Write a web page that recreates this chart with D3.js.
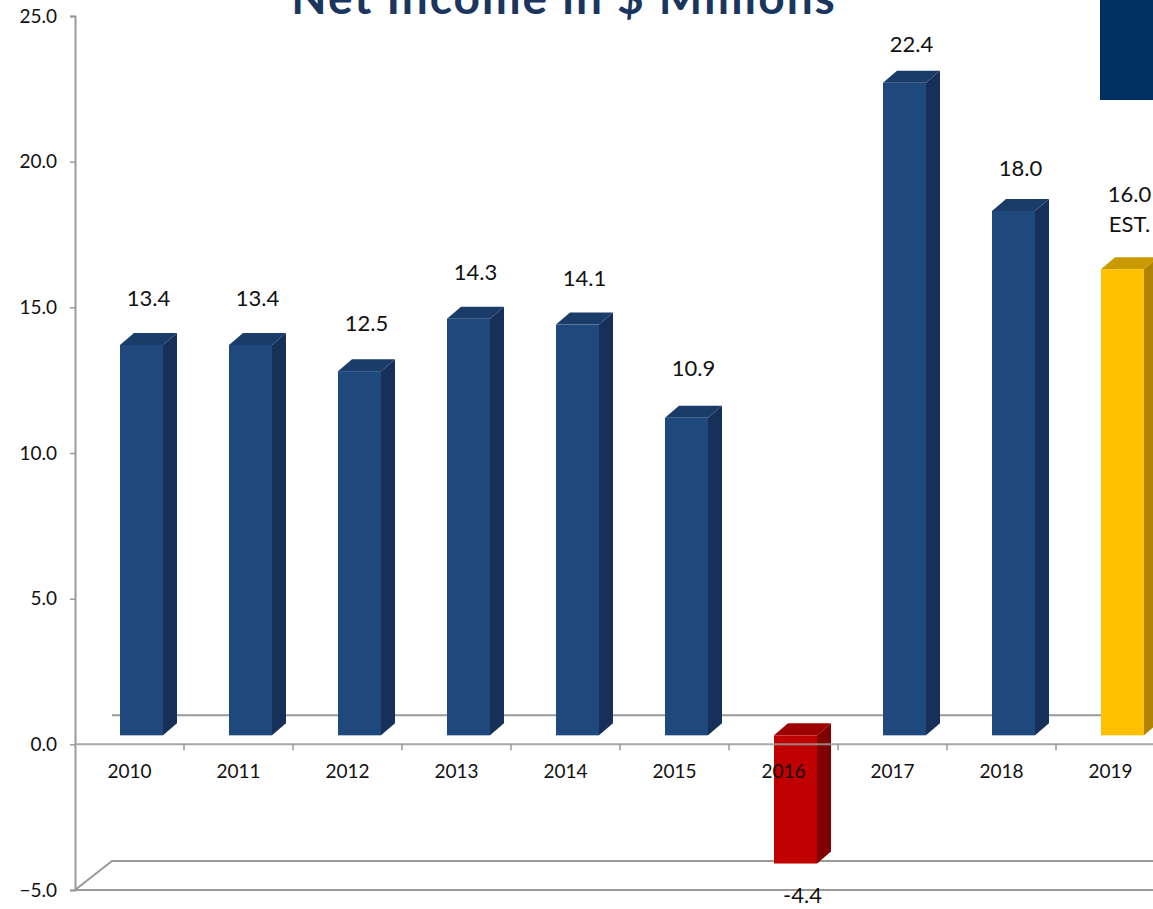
<!DOCTYPE html>
<html>
<head>
<meta charset="utf-8">
<script src="https://cdn.jsdelivr.net/npm/d3@7"></script>
<style>
  body { margin: 0; background: #fff; overflow: hidden; }
  text { font-family: "Lato", "Noto Sans", sans-serif; }
</style>
</head>
<body>
<div class="chart"></div>
<script>
// chart data
var years = ["2010", "2011", "2012", "2013", "2014", "2015", "2016", "2017", "2018", "2019"];
var netIncome = [13.4, 13.4, 12.5, 14.3, 14.1, 10.9, -4.4, 22.4, 18.0, 16.0];
var valueLabels = ["13.4", "13.4", "12.5", "14.3", "14.1", "10.9", "-4.4", "22.4", "18.0", "16.0|EST."];
var yTicks = [-5, 0, 5, 10, 15, 20, 25];
var title = "Net Income in $ Millions";

var svgWidth = 1153;
var svgHeight = 909;

var svg = d3.select(".chart")
    .append("svg")
    .attr("width", svgWidth)
    .attr("height", svgHeight);

// scales
var axisX = 75;
var yScale = d3.scaleLinear().domain([-5, 25]).range([890, 16]);
var xScale = d3.scaleBand().domain(years).range([axisX, axisX + 1090]).padding(0);

// 3d offsets
var floorDx = 37, floorDy = -29;
var barDx = 14, barDy = -12;
var barShiftY = -9;
var barLeft = 45, barW = 43;

var gray = "#9a9a9a";

// floor lines (back edges)
svg.append("line")
    .attr("x1", axisX + floorDx).attr("x2", svgWidth)
    .attr("y1", yScale(0) + floorDy).attr("y2", yScale(0) + floorDy)
    .attr("stroke", gray).attr("stroke-width", 2);

svg.append("polyline")
    .attr("points", [[svgWidth, yScale(-5) + floorDy], [axisX + floorDx, yScale(-5) + floorDy], [axisX, yScale(-5)], [svgWidth, yScale(-5)]].join(" "))
    .attr("fill", "none")
    .attr("stroke", gray).attr("stroke-width", 2);

// bar colours
function colours(i, v) {
    if (v < 0) return { front: "#c00000", side: "#7f0000", top: "#9c0000" };
    if (i === years.length - 1) return { front: "#ffc000", side: "#b08400", top: "#c99a00" };
    return { front: "#1f487c", side: "#16305a", top: "#1a3c69" };
}

var bars = svg.append("g");
years.forEach(function(year, i) {
    var v = netIncome[i];
    var c = colours(i, v);
    var x0 = xScale(year) + barLeft;
    var x1 = x0 + barW;
    var yTop = yScale(Math.max(v, 0)) + barShiftY;
    var yBot = yScale(Math.min(v, 0)) + barShiftY;

    // side face
    bars.append("polygon")
        .attr("points", [[x1, yTop], [x1 + barDx, yTop + barDy], [x1 + barDx, yBot + barDy], [x1, yBot]].join(" "))
        .attr("fill", c.side);
    // top face
    bars.append("polygon")
        .attr("points", [[x0, yTop], [x0 + barDx, yTop + barDy], [x1 + barDx, yTop + barDy], [x1, yTop]].join(" "))
        .attr("fill", c.top);
    // front face
    bars.append("rect")
        .attr("x", x0).attr("y", yTop)
        .attr("width", barW).attr("height", yBot - yTop)
        .attr("fill", c.front);

    // value labels
    var cx = x0 + (barW + barDx) / 2;
    var lines = valueLabels[i].split("|");
    var label = svg.append("text")
        .attr("text-anchor", "middle")
        .attr("font-size", "22px")
        .attr("fill", "#111");
    if (v >= 0) {
        var base = yTop + barDy - 40.6 + 0.99 * v - (lines.length - 1) * 30;
        lines.forEach(function(t, k) {
            label.append("tspan").attr("x", cx).attr("y", base + k * 30).text(t);
        });
    } else {
        label.append("tspan").attr("x", cx).attr("y", yBot + 39).text(lines[0]);
    }
});

// front floor line at zero (drawn over the negative bar like the reference)
svg.append("line")
    .attr("x1", axisX).attr("x2", svgWidth)
    .attr("y1", yScale(0)).attr("y2", yScale(0))
    .attr("stroke", gray).attr("stroke-width", 2)
    .attr("opacity", 0.85);

// x ticks between categories
svg.append("g")
    .selectAll("line")
    .data(years.slice(1))
    .enter()
    .append("line")
    .attr("x1", function(d) { return xScale(d); })
    .attr("x2", function(d) { return xScale(d); })
    .attr("y1", yScale(0)).attr("y2", yScale(0) + 6)
    .attr("stroke", gray).attr("stroke-width", 1.5);

// x labels
svg.append("g")
    .selectAll("text")
    .data(years)
    .enter()
    .append("text")
    .attr("x", function(d) { return xScale(d) + xScale.bandwidth() / 2; })
    .attr("y", yScale(0) + 34)
    .attr("text-anchor", "middle")
    .attr("font-size", "19px")
    .attr("fill", "#111")
    .text(function(d) { return d; });

// y axis
var leftAxis = d3.axisLeft(yScale)
    .tickValues(yTicks)
    .tickFormat(d3.format(".1f"))
    .tickSizeOuter(0)
    .tickSize(5)
    .tickPadding(13);

var yAxis = svg.append("g")
    .attr("transform", "translate(" + axisX + ",0)")
    .call(leftAxis);
yAxis.select(".domain").attr("stroke", gray).attr("stroke-width", 2);
yAxis.selectAll(".tick line").attr("stroke", gray).attr("stroke-width", 1.5);
yAxis.selectAll(".tick text")
    .attr("font-size", "19px")
    .attr("fill", "#111")
    .attr("font-family", "Lato, 'Noto Sans', sans-serif");

// title (cut at the top like the reference)
svg.append("text")
    .attr("x", 564)
    .attr("y", 14)
    .attr("text-anchor", "middle")
    .attr("font-size", "46px")
    .attr("font-weight", "bold")
    .attr("letter-spacing", "2px")
    .attr("fill", "#1a365f")
    .text(title);

// navy block in the corner
svg.append("rect")
    .attr("x", 1100).attr("y", 0)
    .attr("width", 53).attr("height", 100)
    .attr("fill", "#003062");
</script>
</body>
</html>
